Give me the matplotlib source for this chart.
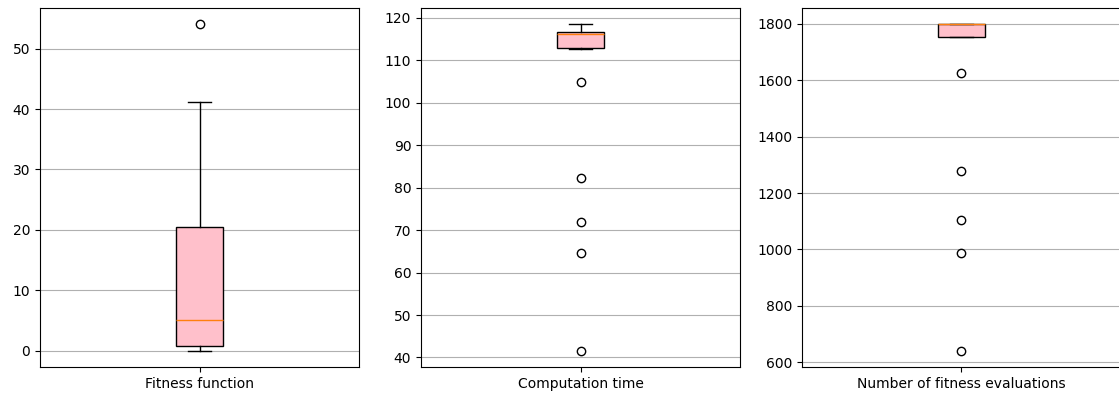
import matplotlib
matplotlib.use("Agg")
import matplotlib.pyplot as plt

# Summary statistics for each metric (quartiles, whiskers, outliers)
labels = ["Fitness function", "Computation time", "Number of fitness evaluations"]
medians = [5.0, 116.2, 1800.0]
q1_values = [0.78, 112.8, 1755.0]
q3_values = [20.4, 116.6, 1800.0]
whisker_low = [0.0, 112.7, 1754.0]
whisker_high = [41.1, 118.6, 1800.0]
outliers = [
    [54.1],
    [104.8, 82.3, 71.8, 64.7, 41.6],
    [1626.0, 1278.0, 1105.0, 989.0, 641.0],
]

W, H = 1119, 396
fig = plt.figure(figsize=(W / 100, H / 100), dpi=100)

# axes rectangles in pixels: left, right, top, bottom
lefts = [40, 421, 802]
width = 319
top, bottom = 7.5, 367

for i, label in enumerate(labels):
    ax = fig.add_axes([lefts[i] / W, 1 - bottom / H, width / W, (bottom - top) / H])
    stats = [{
        "label": label,
        "med": medians[i],
        "q1": q1_values[i],
        "q3": q3_values[i],
        "whislo": whisker_low[i],
        "whishi": whisker_high[i],
        "fliers": outliers[i],
    }]
    ax.bxp(stats, patch_artist=True, boxprops=dict(facecolor="pink"))
    ax.yaxis.grid(True)

fig.savefig("out.png", dpi=100)
